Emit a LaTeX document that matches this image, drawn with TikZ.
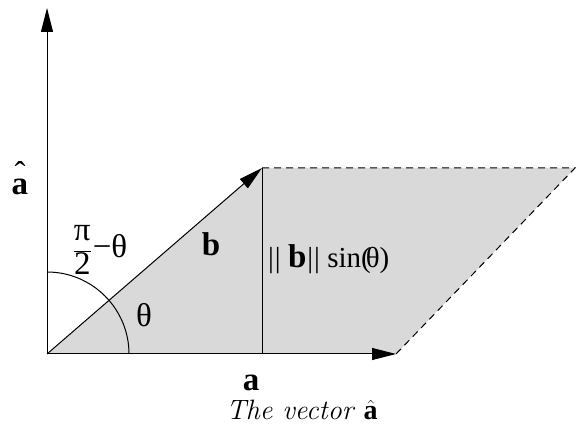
\documentclass[tikz,border=0pt]{standalone}
\usepackage{fontspec}
\setmainfont{Liberation Serif}
\newfontfamily\lmfont{Latin Modern Roman}
\usetikzlibrary{arrows.meta}
\definecolor{lightfill}{RGB}{217,217,217}
\tikzset{
  vec/.style={line width=1pt,-{Triangle[length=24pt,width=12pt]}},
  edge/.style={line width=1pt},
  dashedge/.style={line width=1pt,dash pattern=on 7pt off 5pt},
  lbl/.style={inner sep=0pt,font=\fontsize{29}{33}\selectfont},
  blbl/.style={inner sep=0pt,font=\fontsize{33}{37}\selectfont\bfseries},
}
\begin{document}
\begin{tikzpicture}[x=1pt,y=1pt]
\useasboundingbox (0,0) rectangle (576,425);
\coordinate (O) at (47,71);
\coordinate (T) at (47,417);
\coordinate (B) at (262,257);
\coordinate (C) at (575,257);
\coordinate (D) at (396,71);
\coordinate (F) at (262,71);
\fill[lightfill] (O) -- (B) -- (C) -- (D) -- cycle;
\draw[dashedge] (B) -- (C) -- (D);
\draw[edge] (B) -- (F);
\draw[edge] (129,71) arc[start angle=0,end angle=90,radius=82];
\draw[vec] (O) -- (T);
\draw[vec] (O) -- (D);
\draw[vec] (O) -- (B);
\node[blbl] (ahat) at (20,238) {\ooalign{a\cr\hidewidth\raisebox{0.3em}{\mdseries ˆ}\hidewidth}};
\node[lbl,font=\fontsize{33}{37}\selectfont] (pi) at (100,175) {$\displaystyle\frac{\hbox{π}}{\hbox{2}}$\kern1pt−θ};
\node[lbl,font=\fontsize{33}{37}\selectfont] (th) at (144,110) {θ};
\node[blbl] (b) at (211,181) {b};
\node[lbl,anchor=west] (bs) at (268,166) {|\kern1pt| \fontsize{33}{37}\selectfont\bfseries b\fontsize{29}{33}\selectfont\mdseries\kern1pt|\kern1pt| sin(\kern-5ptθ)};
\node[blbl] (a) at (251,42) {a};
\node[inner sep=0pt,font=\fontsize{28}{32}\selectfont\lmfont] (cap) at (302,15) {\textit{The vector} $\hat{\mathbf{a}}$};
\end{tikzpicture}
\end{document}
